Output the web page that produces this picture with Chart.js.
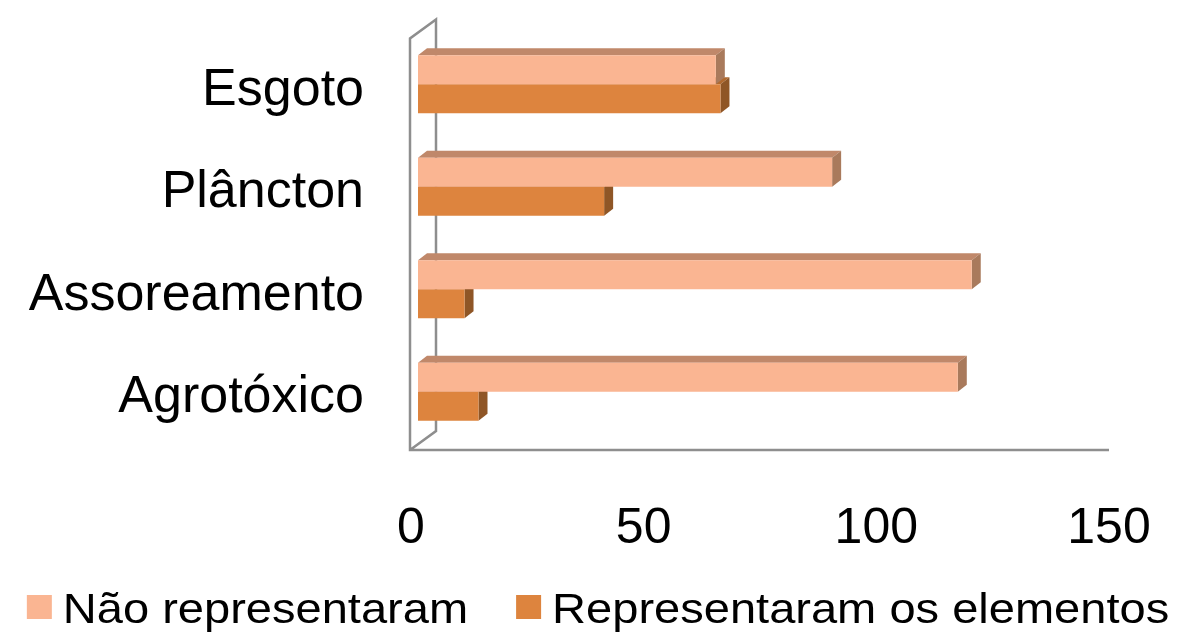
<!DOCTYPE html>
<html>
<head>
<meta charset="utf-8">
<script src="https://cdn.jsdelivr.net/npm/chart.js@4.4.0/dist/chart.umd.min.js"></script>
<style>
  html, body { margin: 0; padding: 0; background: #fff; }
  #wrap { width: 1184px; height: 634px; position: relative; }
</style>
</head>
<body>
<div id="wrap"><canvas id="c"></canvas></div>
<script>
// Survey answers per theme
const categories = ['Esgoto', 'Plâncton', 'Assoreamento', 'Agrotóxico'];
const naoRepresentaram = [64, 89, 119, 116];
const representaram = [65, 40, 10, 13];
const seriesNames = ['Não representaram', 'Representaram os elementos'];
const xTickValues = [0, 50, 100, 150];

const FONT = "'Liberation Sans', Arial, sans-serif";
const DEPTH_X = 9, DEPTH_Y = 7;          // bar extrusion
const WALL_DX = 26, WALL_DY = 19;         // back wall offset
const shades = [
  { front: '#FAB592', top: '#C0886A', side: '#A97A5C' },
  { front: '#DD843E', top: '#B0692F', side: '#8F5626' }
];

// Draws the wall/floor outline and the top/side faces of each bar
const extrude = {
  id: 'extrude',
  beforeDatasetsDraw(chart) {
    const ctx = chart.ctx, a = chart.chartArea;
    ctx.save();
    const fx = a.left - 8, fb = a.bottom + 7, ft = a.top + 5.5;
    const bx = fx + WALL_DX;
    ctx.strokeStyle = '#8e8e8e';
    ctx.lineWidth = 2.5;
    ctx.beginPath();
    ctx.moveTo(a.right - 7, fb);
    ctx.lineTo(fx, fb);
    ctx.lineTo(fx, ft);
    ctx.lineTo(bx, ft - WALL_DY);
    ctx.lineTo(bx, fb - WALL_DY);
    ctx.lineTo(fx, fb);
    ctx.stroke();

    [1, 0].forEach(di => {
      const meta = chart.getDatasetMeta(di);
      const sh = shades[di];
      meta.data.forEach(el => {
        const p = el.getProps(['x', 'y', 'base', 'height'], true);
        const t = p.y - p.height / 2, b = p.y + p.height / 2;
        ctx.fillStyle = sh.top;
        ctx.beginPath();
        ctx.moveTo(p.base, t);
        ctx.lineTo(p.base + DEPTH_X, t - DEPTH_Y);
        ctx.lineTo(p.x + DEPTH_X, t - DEPTH_Y);
        ctx.lineTo(p.x, t);
        ctx.closePath();
        ctx.fill();
        ctx.fillStyle = sh.side;
        ctx.beginPath();
        ctx.moveTo(p.x, t);
        ctx.lineTo(p.x + DEPTH_X, t - DEPTH_Y);
        ctx.lineTo(p.x + DEPTH_X, b - DEPTH_Y);
        ctx.lineTo(p.x, b);
        ctx.closePath();
        ctx.fill();
      });
    });
    ctx.restore();
  }
};

// Legend row along the bottom edge
const bottomLegend = {
  id: 'bottomLegend',
  afterDraw(chart) {
    const ctx = chart.ctx;
    const size = 42, stretch = 1.12, box = 25, gap = 11, itemGap = 48;
    ctx.save();
    ctx.font = size + 'px ' + FONT;
    const items = chart.data.datasets.map(ds => ({
      text: ds.label, color: ds.backgroundColor,
      w: ctx.measureText(ds.label).width * stretch
    }));
    const total = items.reduce((s, it) => s + box + gap + it.w, 0) + itemGap * (items.length - 1);
    let x = (chart.width - total) / 2 + 6;
    const capMid = 608;
    items.forEach(it => {
      ctx.fillStyle = it.color;
      ctx.fillRect(x, capMid - 13, box, 24);
      ctx.fillStyle = '#000';
      ctx.textBaseline = 'alphabetic';
      ctx.save();
      ctx.translate(x + box + gap, capMid + 0.358 * size);
      ctx.scale(stretch, 1);
      ctx.fillText(it.text, 0, 0);
      ctx.restore();
      x += box + gap + it.w + itemGap;
    });
    ctx.restore();
  }
};

new Chart(document.getElementById('c'), {
  type: 'bar',
  data: {
    labels: categories,
    datasets: [
      { label: seriesNames[0], data: naoRepresentaram, backgroundColor: shades[0].front },
      { label: seriesNames[1], data: representaram, backgroundColor: shades[1].front }
    ]
  },
  options: {
    indexAxis: 'y',
    responsive: true,
    maintainAspectRatio: false,
    animation: false,
    devicePixelRatio: 1,
    layout: { padding: { top: 33, right: 68, bottom: 75, left: 0 } },
    datasets: { bar: { categoryPercentage: 0.565, barPercentage: 1, borderWidth: 0 } },
    plugins: { legend: { display: false }, tooltip: { enabled: false } },
    scales: {
      x: {
        min: 0, max: 150,
        afterBuildTicks(s) { s.ticks = xTickValues.map(v => ({ value: v })); },
        afterFit(s) { s.height = 116; s.paddingLeft = 0; s.paddingRight = 0; },
        grid: { display: false, drawTicks: false },
        border: { display: false },
        ticks: { font: { size: 50, family: FONT }, color: '#000', padding: 56, labelOffset: -7 }
      },
      y: {
        afterFit(s) { s.width = 418; s.paddingTop = 0; s.paddingBottom = 0; },
        grid: { display: false, drawTicks: false },
        border: { display: false },
        ticks: { font: { size: 52, family: FONT }, color: '#000', padding: 54, labelOffset: 6 }
      }
    }
  },
  plugins: [extrude, bottomLegend]
});
</script>
</body>
</html>
